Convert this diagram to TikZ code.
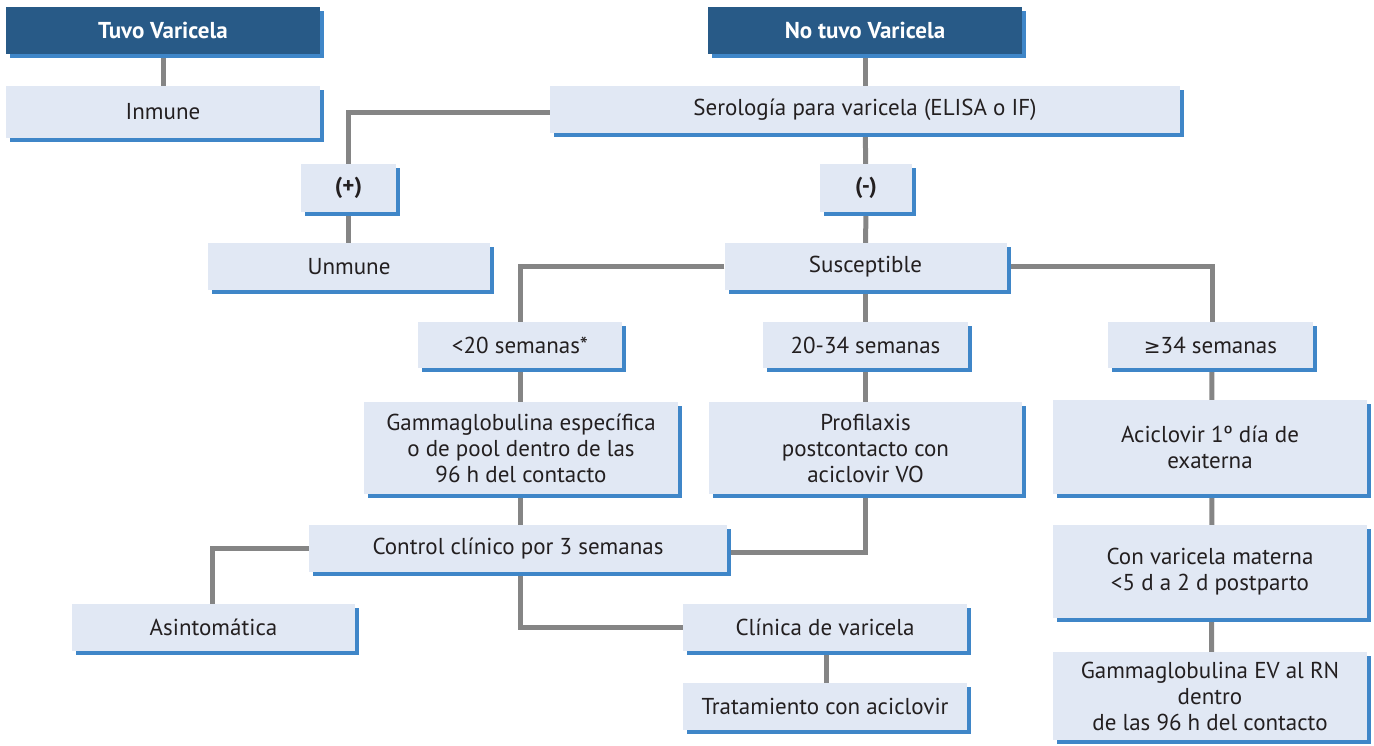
\documentclass[tikz,border=0pt]{standalone}
\usepackage{fontspec}
\setmainfont{PT Sans}
\newfontfamily\symfont{DejaVu Sans}
\usetikzlibrary{shadows}
\definecolor{boxfill}{HTML}{E1E8F4}
\definecolor{shadowblue}{HTML}{3F86C8}
\definecolor{headfill}{HTML}{285A87}
\definecolor{linegray}{HTML}{858585}
\definecolor{txt}{HTML}{231F20}
\pgfdeclarelayer{bg}
\pgfsetlayers{bg,main}
\begin{document}
\begin{tikzpicture}[x=1pt,y=-1pt,
  box/.style={fill=boxfill, draw=none, text=txt, align=center, inner sep=0pt,
    copy shadow={shadow xshift=4pt, shadow yshift=-4pt, fill=shadowblue, draw=none},
    font=\fontsize{23}{26}\selectfont},
  head/.style={box, fill=headfill, text=white, font=\fontsize{23}{26}\selectfont\bfseries},
  wh/.style 2 args={minimum width=#1pt, minimum height=#2pt},
  link/.style={draw=linegray, line width=5pt}]
\useasboundingbox (0,0) rectangle (1374,746);

\node[head, wh={314}{47}] (tuvo) at (163,30.5) {Tuvo Varicela};
\node[box, wh={314}{52}] (inmune) at (163,112) {Inmune};
\node[head, wh={314}{47}] (notuvo) at (865,30.5) {No tuvo Varicela};
\node[box, wh={630}{47}] (sero) at (865,109.5) {Serología para varicela (ELISA o IF)};
\node[box, wh={95}{48}] (pos) at (348.5,188) {\bfseries (+)};
\node[box, wh={92}{48}] (neg) at (866,188) {\bfseries (-)};
\node[box, wh={282}{47}] (unmune) at (349,266.5) {Unmune};
\node[box, wh={282}{47}] (susc) at (865.5,266.5) {Susceptible};
\node[box, wh={204}{46}] (lt20) at (520,345) {<20 semanas*};
\node[box, wh={205}{46}] (mid) at (865.5,345) {20-34 semanas};
\node[box, wh={205}{46}] (ge34) at (1210.5,345) {{\symfont\fontsize{20}{26}\selectfont ≥}34 semanas};
\node[box, wh={314}{92}] (gamma) at (521,448) {Gammaglobulina específica\\o de pool dentro de las\\96 h del contacto};
\node[box, wh={313}{92}] (prof) at (865.5,448) {Profilaxis\\postcontacto con\\aciclovir VO};
\node[box, wh={314}{94}] (acic) at (1210,447) {Aciclovir 1º día de\\exaterna};
\node[box, wh={418}{47}] (control) at (518,548.5) {Control clínico por 3 semanas};
\node[box, wh={314}{93}] (convar) at (1210,571.5) {Con varicela materna\\<5 d a 2 d postparto};
\node[box, wh={283}{47}] (asin) at (213.5,627.5) {Asintomática};
\node[box, wh={284}{47}] (clin) at (825,627.5) {Clínica de varicela};
\node[box, wh={284}{47}] (trat) at (825,706.5) {Tratamiento con aciclovir};
\node[box, wh={314}{88}] (gev) at (1210,696) {Gammaglobulina EV al RN\\dentro\\de las 96 h del contacto};

\begin{pgfonlayer}{bg}
\draw[link] (tuvo) -- (inmune);
\draw[link] (notuvo) -- (sero);
\draw[link] ([yshift=-3pt]sero.west) -| (pos);
\draw[link] (sero) -- (neg);
\draw[link] (pos) -- (pos |- unmune);
\draw[link] (neg) -- (susc);
\draw[link] (susc.west) -| (lt20);
\draw[link] (susc) -- (mid);
\draw[link] (susc.east) -| ([xshift=1.5pt]ge34.center);
\draw[link] ([xshift=1.5pt]ge34.center) -- ([xshift=1.5pt]gev.center);
\draw[link] (lt20) -- (lt20 |- control);
\draw[link] (mid) -- (prof);
\draw[link] (prof) |- ([yshift=-3.5pt]control.east);
\draw[link] (control.west) -| ([xshift=-1.5pt]asin.center);
\draw[link] (lt20 |- control) |- (clin);
\draw[link] ([xshift=1pt]clin.center) -- ([xshift=1pt]trat.center);
\end{pgfonlayer}
\end{tikzpicture}
\end{document}
